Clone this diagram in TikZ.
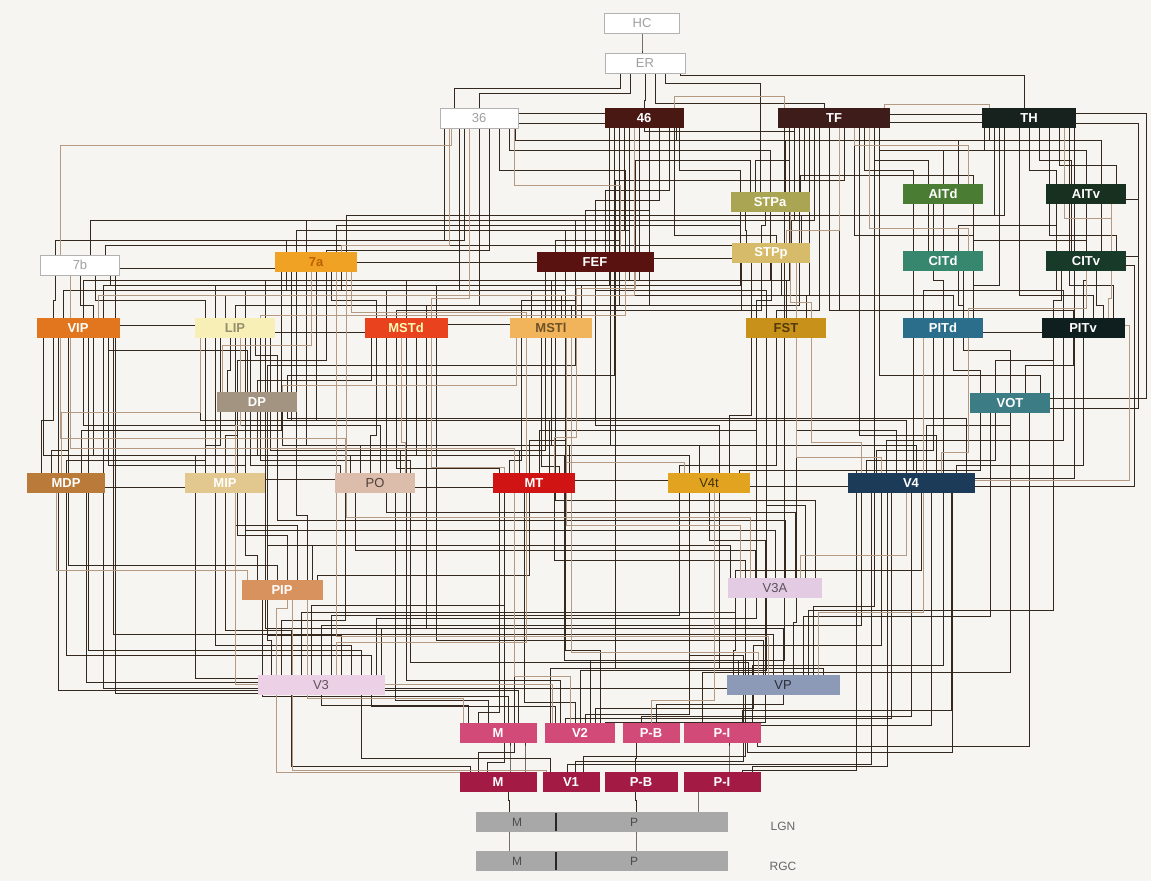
\documentclass[tikz,border=0pt]{standalone}
\usepackage{fontspec}
\setmainfont{Liberation Sans}
\usetikzlibrary{calc}
\pgfdeclarelayer{back}\pgfdeclarelayer{bg}\pgfsetlayers{back,bg,main}
\definecolor{cdk}{HTML}{34281F}
\definecolor{clt}{HTML}{B49A82}
\definecolor{cbg}{HTML}{F6F5F2}
\definecolor{c46}{HTML}{4A1812}
\definecolor{cTF}{HTML}{3E1C1A}
\definecolor{cTH}{HTML}{17211D}
\definecolor{cSTPa}{HTML}{A9A552}
\definecolor{cAITd}{HTML}{4B7C34}
\definecolor{cAITv}{HTML}{17301F}
\definecolor{cSTPp}{HTML}{D6BC6A}
\definecolor{cFEF}{HTML}{5A1210}
\definecolor{cCITd}{HTML}{37876E}
\definecolor{cCITv}{HTML}{183A28}
\definecolor{c7a}{HTML}{F0A224}
\definecolor{cVIP}{HTML}{E2761E}
\definecolor{cLIP}{HTML}{F7EFB5}
\definecolor{cMSTd}{HTML}{E8431E}
\definecolor{cMSTl}{HTML}{F2B45A}
\definecolor{cFST}{HTML}{C8921A}
\definecolor{cPITd}{HTML}{2A6E8C}
\definecolor{cPITv}{HTML}{0F1F1F}
\definecolor{cDP}{HTML}{A39482}
\definecolor{cVOT}{HTML}{3C7C84}
\definecolor{cMDP}{HTML}{B97A3A}
\definecolor{cMIP}{HTML}{E2C88E}
\definecolor{cPO}{HTML}{DCBCAA}
\definecolor{cMT}{HTML}{D01414}
\definecolor{cV4t}{HTML}{E2A420}
\definecolor{cV4}{HTML}{1C3B58}
\definecolor{cPIP}{HTML}{D8925E}
\definecolor{cV3A}{HTML}{E3CBE3}
\definecolor{cV3}{HTML}{ECD0E6}
\definecolor{cVP}{HTML}{8C9AB8}
\definecolor{cV2}{HTML}{D24A78}
\definecolor{cV1}{HTML}{A31A44}
\definecolor{cLGN}{HTML}{A8A8A8}
\begin{document}
\begin{tikzpicture}[x=1pt,y=1pt,
  box/.style={rectangle, minimum height=20pt, inner sep=0pt, font=\fontsize{13}{14}\selectfont},
  wbox/.style={box, fill=white, draw=gray!60, text=gray!75, line width=0.8pt},
  cbox/.style={box, text=white, font=\fontsize{13}{14}\selectfont\bfseries},
  lbl/.style={inner sep=0pt, font=\fontsize{12}{13}\selectfont, text=black!70},
  wire/.style={draw=cdk, line width=0.95pt},
  wirel/.style={draw=clt, line width=0.95pt}]
\begin{pgfonlayer}{back}
\fill[cbg] (0,0) rectangle (1151,-881);
\end{pgfonlayer}
\useasboundingbox (0,0) rectangle (1151,-881);
% ---------- nodes ----------
\node[wbox, minimum width=75pt] (HC) at (642,-23) {HC};
\node[wbox, minimum width=80pt] (ER) at (645,-63) {ER};
\node[wbox, minimum width=78pt] (A36) at (479,-118) {36};
\node[cbox, fill=c46, minimum width=79pt] (A46) at (644,-118) {46};
\node[cbox, fill=cTF, minimum width=112pt] (TF) at (834,-118) {TF};
\node[cbox, fill=cTH, minimum width=94pt] (TH) at (1029,-118) {TH};
\node[cbox, fill=cSTPa, minimum width=79pt] (STPa) at (770,-202) {STPa};
\node[cbox, fill=cAITd, minimum width=80pt] (AITd) at (943,-194) {AITd};
\node[cbox, fill=cAITv, minimum width=80pt] (AITv) at (1086,-194) {AITv};
\node[cbox, fill=cSTPp, minimum width=78pt] (STPp) at (771,-253) {STPp};
\node[cbox, fill=cFEF, minimum width=117pt] (FEF) at (595,-262) {FEF};
\node[cbox, fill=cCITd, minimum width=80pt] (CITd) at (943,-261) {CITd};
\node[cbox, fill=cCITv, minimum width=80pt] (CITv) at (1086,-261) {CITv};
\node[wbox, minimum width=79pt] (A7b) at (80,-265) {7b};
\node[cbox, fill=c7a, text=orange!75!black, minimum width=82pt] (A7a) at (316,-262) {7a};
\node[cbox, fill=cVIP, minimum width=83pt] (VIP) at (78,-328) {VIP};
\node[cbox, fill=cLIP, text=black!40!cLIP, minimum width=80pt] (LIP) at (235,-328) {LIP};
\node[cbox, fill=cMSTd, text=yellow!30, minimum width=83pt] (MSTd) at (406,-328) {MSTd};
\node[cbox, fill=cMSTl, text=black!55!cMSTl, minimum width=82pt] (MSTl) at (551,-328) {MSTl};
\node[cbox, fill=cFST, text=black!60!cFST, minimum width=80pt] (FST) at (786,-328) {FST};
\node[cbox, fill=cPITd, minimum width=80pt] (PITd) at (943,-328) {PITd};
\node[cbox, fill=cPITv, minimum width=83pt] (PITv) at (1083,-328) {PITv};
\node[cbox, fill=cDP, minimum width=80pt] (DP) at (257,-402) {DP};
\node[cbox, fill=cVOT, minimum width=80pt] (VOT) at (1010,-403) {VOT};
\node[cbox, fill=cMDP, minimum width=78pt] (MDP) at (66,-483) {MDP};
\node[cbox, fill=cMIP, minimum width=80pt] (MIP) at (225,-483) {MIP};
\node[box, fill=cPO, text=black!65!cPO, minimum width=80pt] (PO) at (375,-483) {PO};
\node[cbox, fill=cMT, minimum width=82pt] (MT) at (534,-483) {MT};
\node[box, fill=cV4t, text=black!70!cV4t, minimum width=82pt] (V4t) at (709,-483) {V4t};
\node[cbox, fill=cV4, minimum width=127pt] (V4) at (911,-483) {V4};
\node[cbox, fill=cPIP, minimum width=81pt] (PIP) at (282,-590) {PIP};
\node[box, fill=cV3A, text=black!60!cV3A, minimum width=94pt] (V3A) at (775,-588) {V3A};
\node[box, fill=cV3, text=black!60!cV3, minimum width=127pt] (V3) at (321,-685) {V3};
\node[box, fill=cVP, text=black!70!cVP, minimum width=113pt] (VP) at (783,-685) {VP};
\node[cbox, fill=cV2, minimum width=77pt] (V2M) at (498,-733) {M};
\node[cbox, fill=cV2, minimum width=70pt] (V2) at (580,-733) {V2};
\node[cbox, fill=cV2, minimum width=57pt] (V2PB) at (651,-733) {P-B};
\node[cbox, fill=cV2, minimum width=77pt] (V2PI) at (722,-733) {P-I};
\node[cbox, fill=cV1, minimum width=77pt] (V1M) at (498,-782) {M};
\node[cbox, fill=cV1, minimum width=57pt] (V1) at (571,-782) {V1};
\node[cbox, fill=cV1, minimum width=73pt] (V1PB) at (641,-782) {P-B};
\node[cbox, fill=cV1, minimum width=77pt] (V1PI) at (722,-782) {P-I};
\node[box, fill=cLGN, minimum width=252pt] (LGN) at (602,-822) {};
\node[box, fill=cLGN, minimum width=252pt] (RGC) at (602,-861) {};
\node[lbl] (lgnM) at (517,-822) {M};
\node[lbl] (lgnP) at (634,-822) {P};
\node[lbl] (rgcM) at (517,-861) {M};
\node[lbl] (rgcP) at (634,-861) {P};
\draw[line width=2.5pt, black!85] (556,-813) -- (556,-831);
\draw[line width=2.5pt, black!85] (556,-852) -- (556,-870);
\node[lbl, text=black!60] (lgnlab) at (783,-826) {LGN};
\node[lbl, text=black!60] (rgclab) at (783,-866) {RGC};
% ---------- connectors ----------
\begin{pgfonlayer}{bg}
\foreach \a/\da/\L/\b/\db in {
 HC/0/40/ER/-3, ER/-15/93/A36/0, ER/0/100/A46/0, ER/10/103/TF/-10, ER/20/83/STPa/-10,
 ER/35/75/TH/-5, ER/-25/88/A36/-25, A36/0/113/A46/0, A36/0/123/A46/0, A46/0/131/TF/-40,
 TF/0/114/TH/0, TF/0/122/TH/0,
 LGN/-93/800/V1M/10, LGN/34/800/V1PB/-6, LGN/96/800/V1PI/-24, RGC/-93/842/LGN/-93, RGC/34/842/LGN/34,
 V1M/12/758/V2M/12, V1M/27/758/V2M/27, V1PB/-6/758/V2PB/-15, V1PI/7/758/V2PI/7,
 V1M/-28/766/V3/-30, V1M/-11/762/MT/-30, V1/-21/758/V3/40, V1/-4/764/V4/-40, V1/4/761/VP/-40,
 V1/12/756/V3A/-30, V1M/-20/752/MT/-20, V1PI/20/770/V4/-55, V1PI/30/766/V4/-24,
 V2M/-30/705/V3/0, V2M/-20/712/MT/-35, V2M/-10/700/PO/20, V2/-25/706/V3/50, V2/-15/718/V4/-20,
 V2/-5/702/MT/-10, V2/5/714/V4t/-20, V2/15/708/VP/-30, V2/25/722/V3A/-10, V2PB/-10/716/V4/0,
 V2PB/5/704/VP/0, V2PI/0/725/V4/20, V2PI/20/710/V4/40, V2M/10/696/PIP/-20, V2M/20/690/VIP/-20,
 V2/-20/680/MSTd/0, V2/0/670/FST/-20, V2/10/660/TF/-50, V2/20/650/FEF/-30, V2PI/-20/672/VOT/0,
 V2PI/30/665/PITd/0, V2/-30/668/V4t/10, V2PI/25/752/V4/41, V2PI/35/746/VOT/19,
 V3/-50/640/PIP/-15, V3/-40/620/PO/-30, V3/-30/630/MIP/0, V3/-20/612/V3A/-40, V3/-10/605/MT/-30,
 V3/0/625/V4/-50, V3/10/615/V4t/-30, V3/20/635/DP/10, V3/30/645/LIP/-20, V3/40/650/VIP/10,
 V3/50/655/MDP/0, V3/55/618/FST/-30, V3/60/628/MSTd/20, V3/0/688/VIP/25, V3/0/682/MDP/20,
 V3/0/693/A7b/35, V3/0/678/MIP/-30,
 VP/-50/650/V3A/-40, VP/-45/660/MT/30, VP/-40/655/V4t/-20, VP/-35/662/PO/35, VP/-30/645/V4/-30,
 VP/-20/640/MSTd/30, VP/-10/634/VIP/35, VP/0/628/LIP/30, VP/10/622/FST/10, VP/20/616/VOT/-20,
 VP/25/610/PITv/-30, VP/30/606/TF/40, VP/40/668/FEF/20, VP/0/688/V3/50,
 V3A/-40/570/V4/10, V3A/-30/560/MT/20, V3A/-20/550/PO/-20, V3A/-10/540/V4t/0, V3A/0/530/LIP/10,
 V3A/10/520/DP/20, V3A/20/512/MSTd/-20, V3A/30/505/FST/-20, V3A/40/500/FEF/-40, V3A/-45/545/PIP/30,
 PIP/-25/555/MIP/20, PIP/-15/545/PO/-20, PIP/-5/565/VIP/-10, PIP/5/535/DP/-20, PIP/15/525/LIP/0,
 PIP/25/515/A7a/-20, PIP/35/575/MT/-5,
 MDP/-25/420/VIP/-25, MDP/-15/450/VIP/-10, MDP/0/460/LIP/-30, MDP/15/430/A7a/-35, MDP/0/487/MIP/0,
 MIP/-30/455/VIP/15, MIP/-20/445/LIP/-15, MIP/-10/420/A7a/-25, MIP/0/435/DP/-20, MIP/20/465/VIP/30,
 MIP/0/479/PO/0, PO/-35/465/LIP/15, PO/-25/455/DP/0, PO/-15/445/A7a/-10, PO/-5/435/MSTd/-30,
 PO/5/425/VIP/5, PO/0/487/MT/0, PO/25/450/FEF/-50, PO/35/460/LIP/25,
 MT/-35/468/MSTd/-10, MT/-25/460/MSTl/-30, MT/-15/450/LIP/35, MT/-5/440/FEF/-30, MT/5/430/FST/-30,
 MT/15/420/A7a/0, MT/25/466/MSTl/-10, MT/30/455/VIP/-35, MT/35/445/DP/25, MT/0/480/V4t/0,
 V4t/-30/465/FST/-10, V4t/-20/455/MSTd/10, V4t/-10/445/MSTl/0, V4t/0/486/V4/0, V4t/10/425/FEF/0,
 V4t/20/415/STPp/-20, V4t/30/470/PITd/-30,
 V4/-55/470/VOT/-30, V4/-45/460/VOT/-15, V4/-35/450/PITd/-10, V4/-25/440/PITv/-20, V4/-15/430/FST/10,
 V4/-5/420/LIP/-35, V4/5/445/FEF/15, V4/15/425/VOT/0, V4/25/435/TF/25, V4/45/465/PITv/0,
 V4/55/418/DP/30, V4/0/478/TH/45,
 DP/-30/370/LIP/-5, DP/-20/360/A7a/10, DP/-10/350/VIP/30, DP/0/380/MSTd/-35, DP/10/365/FEF/-20,
 DP/20/355/LIP/20, DP/30/375/A46/-30,
 VOT/-30/370/PITd/10, VOT/-15/360/PITv/-30, VOT/0/350/CITd/20, VOT/15/365/PITv/-10, VOT/30/375/TF/45,
 VIP/-25/300/A7b/-25, VIP/-15/290/A7a/-30, VIP/0/325/LIP/0, VIP/5/280/FEF/-50, VIP/15/305/A7b/0,
 VIP/25/285/A46/-35,
 LIP/-30/300/A7b/15, LIP/-20/285/A7a/-20, LIP/-10/295/FEF/-40, LIP/0/305/A46/-25, LIP/10/290/A36/-20,
 LIP/0/332/MSTd/0, LIP/30/280/TF/-45,
 MSTd/-30/300/A7a/15, MSTd/-20/290/FEF/-30, MSTd/-10/310/STPp/-30, MSTd/0/280/A46/-15, MSTd/0/324/MSTl/0,
 MSTd/20/305/TF/-35, MSTd/30/285/A7b/30,
 MSTl/-30/300/FEF/-20, MSTl/-20/290/A7a/25, MSTl/-10/310/STPp/-10, MSTl/0/280/A46/-5, MSTl/10/295/TF/-25,
 MSTl/20/305/A36/0, MSTl/30/285/STPa/-30,
 FST/-30/300/STPp/0, FST/-20/290/FEF/0, FST/-10/310/TF/-15, FST/0/280/STPa/0, FST/10/305/A46/5,
 FST/20/295/A7a/30,
 PITd/-30/300/CITd/-30, PITd/-20/290/CITv/-30, PITd/-10/310/TF/-5, PITd/0/280/AITd/-10, PITd/10/295/STPp/10,
 PITd/20/305/CITd/15, PITd/30/285/TH/-30, PITd/0/332/PITv/0,
 PITv/-30/300/CITv/-25, PITv/-20/290/CITd/30, PITv/-10/310/TF/5, PITv/0/280/AITv/0, PITv/10/295/TH/-10,
 PITv/20/305/CITv/10, PITv/30/285/TH/40,
 A7b/-25/240/A36/-35, A7b/0/268/A7a/0, A7b/10/220/A46/-30, A7b/25/245/TF/-50,
 A7a/-30/240/A36/-15, A7a/-20/230/A46/-20, A7a/-10/220/TF/-40, A7a/0/262/FEF/0, A7a/10/250/A36/10,
 A7a/20/225/STPa/-30, A7a/30/215/TH/-35,
 FEF/-40/240/A46/-25, FEF/-30/230/A46/-15, FEF/-20/220/A46/-5, FEF/-10/210/A46/5, FEF/0/200/A46/15,
 FEF/10/190/A46/25, FEF/20/180/TF/-30, FEF/30/170/A36/20, FEF/40/160/STPa/-20, FEF/0/258/STPp/0,
 STPp/-25/230/STPa/-25, STPp/-10/225/STPa/-5, STPp/5/235/A46/30, STPp/20/220/TF/-20, STPp/30/215/TH/-25,
 STPa/-30/170/A46/35, STPa/-15/160/TF/-45, STPa/0/150/A36/30, STPa/15/140/TH/-40, STPa/30/180/TF/10,
 CITd/-30/230/AITd/-30, CITd/-15/220/AITd/-15, CITd/0/240/AITd/0, CITd/15/225/AITv/-30, CITd/30/235/TF/20,
 CITv/-30/230/AITv/-30, CITv/-15/220/AITv/-15, CITv/0/240/AITd/30, CITv/15/225/AITv/15, CITv/30/235/TH/20,
 AITd/-30/170/TF/30, AITd/-15/160/TF/40, AITd/0/150/TH/-45, AITd/15/140/A46/32, AITd/30/175/STPa/30,
 AITv/-30/170/TH/0, AITv/-15/160/TH/10, AITv/0/150/TF/45, AITv/15/140/A36/36, AITv/30/165/TH/30}
 \draw[wire] let \p1=([xshift=\da pt]\a.center) in (\p1) -- (\x1,-\L pt) -| ([xshift=\db pt]\b.center);
\foreach \a/\da/\L/\b/\db in {
 V1M/-35/772/V3/-45, V1/-25/770/PIP/10, V2M/-35/698/PIP/25, V2/-10/676/MT/-20, V2PB/0/700/V4t/5,
 V3/-45/608/PIP/5, V3/15/642/MSTl/-25, VP/-25/652/MSTl/20, VP/35/612/PITd/-20, V3A/-35/525/MSTl/15,
 V3A/25/555/V4/-5, PIP/-35/570/MDP/-10, MT/-30/467/MSTd/25, MT/20/437/MSTl/25, V4t/-25/462/MSTl/15,
 V4/-50/442/FST/25, V4/30/452/PITd/25, PO/30/442/MSTd/-5, MIP/10/425/LIP/5, MDP/-5/412/LIP/-35,
 DP/-35/345/A7a/-5, DP/25/385/MSTl/-35, LIP/25/315/FEF/30, VIP/20/295/A46/-10, MSTd/25/298/A36/-10,
 MSTl/25/288/FEF/40, FST/25/302/STPa/20, PITd/25/308/CITv/0, PITv/25/298/AITv/25, A7a/25/245/A36/-30,
 FEF/25/185/A36/35, STPp/15/230/TF/5, CITd/25/228/TF/35, CITv/25/218/TH/35, AITd/25/145/TF/20,
 A7b/-20/145/A36/-28, TF/-50/96/A46/30, TH/-40/104/TF/50, V2/-28/684/MIP/10, VP/-15/636/A7a/20,
 V4/-30/457/STPp/25, MT/-20/448/A7b/-10, PO/-30/438/VIP/-18, V3A/-25/517/A7a/30, MSTl/-25/312/A7a/35}
 \draw[wirel] let \p1=([xshift=\da pt]\a.center) in (\p1) -- (\x1,-\L pt) -| ([xshift=\db pt]\b.center);
\draw[wire] ([yshift=-5pt]VOT.east) -- ++(88,0) |- ([yshift=-5pt]TH.east);
\draw[wire] ([yshift=5pt]VOT.east) -- ++(96,0) |- ([yshift=5pt]TH.east);
\draw[wirel] ([yshift=3pt]V4.east) -- ++(155,0) |- ([yshift=3pt]PITv.east);
\draw[wire] ([yshift=-3pt]V4.east) -- ++(160,0) |- ([yshift=-4pt]CITv.east);
\draw[wire] ([yshift=-5pt]AITv.east) -- ++(12,0) |- ([yshift=5pt]CITv.east);
\end{pgfonlayer}
\end{tikzpicture}
\end{document}
